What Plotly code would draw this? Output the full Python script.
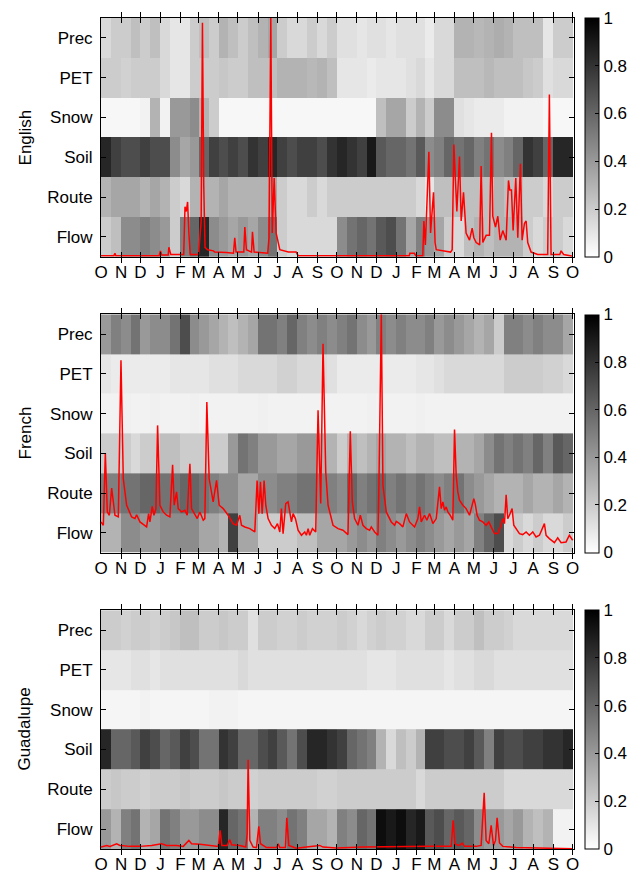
import plotly.graph_objects as go

# ---------------- data ----------------
month_labels = ["O", "N", "D", "J", "F", "M", "A", "M", "J", "J", "A", "S",
                "O", "N", "D", "J", "F", "M", "A", "M", "J", "J", "A", "S", "O"]
month_days = [31, 30, 31, 31, 28, 31, 30, 31, 30, 31, 31, 30,
              31, 30, 31, 31, 28, 31, 30, 31, 30, 31, 31, 30]
row_labels = ["Flow", "Route", "Soil", "Snow", "PET", "Prec"]  # bottom -> top
basins = ["English", "French", "Guadalupe"]

# half-month relevance values (48 per row), Oct yr1 .. Sep yr2
eng_prec = [0.15, 0.2, 0.2, 0.25, 0.2, 0.25, 0.15, 0.1, 0.1, 0.2, 0.25, 0.2, 0.3, 0.25, 0.2, 0.25, 0.3, 0.35, 0.2, 0.15, 0.15, 0.2, 0.15, 0.2,
            0.12, 0.12, 0.1, 0.12, 0.12, 0.1, 0.12, 0.12, 0.12, 0.08, 0.15, 0.15, 0.3, 0.3, 0.28, 0.3, 0.32, 0.3, 0.25, 0.25, 0.25, 0.1, 0.2, 0.2]
eng_pet = [0.2, 0.2, 0.18, 0.2, 0.2, 0.2, 0.15, 0.1, 0.1, 0.2, 0.2, 0.2, 0.22, 0.2, 0.2, 0.25, 0.25, 0.25, 0.3, 0.3, 0.3, 0.28, 0.3, 0.25,
           0.1, 0.1, 0.1, 0.08, 0.1, 0.1, 0.1, 0.12, 0.15, 0.1, 0.15, 0.15, 0.25, 0.25, 0.25, 0.28, 0.25, 0.25, 0.25, 0.22, 0.2, 0.12, 0.15, 0.15]
eng_snow = [0.03, 0.03, 0.03, 0.03, 0.05, 0.3, 0.05, 0.4, 0.4, 0.45, 0.3, 0.2, 0.03, 0.03, 0.03, 0.03, 0.03, 0.03, 0.03, 0.03, 0.03, 0.03, 0.03, 0.03,
            0.03, 0.03, 0.03, 0.03, 0.25, 0.35, 0.35, 0.2, 0.3, 0.2, 0.45, 0.45, 0.12, 0.1, 0.08, 0.08, 0.08, 0.05, 0.05, 0.05, 0.05, 0.03, 0.03, 0.03]
eng_soil = [0.85, 0.75, 0.7, 0.7, 0.75, 0.7, 0.7, 0.45, 0.35, 0.4, 0.6, 0.75, 0.7, 0.75, 0.7, 0.8, 0.75, 0.85, 0.75, 0.7, 0.75, 0.75, 0.7, 0.8,
            0.85, 0.8, 0.75, 0.9, 0.65, 0.6, 0.6, 0.55, 0.65, 0.45, 0.5, 0.6, 0.55, 0.6, 0.5, 0.55, 0.45, 0.5, 0.6, 0.8, 0.75, 0.6, 0.85, 0.85]
eng_route = [0.3, 0.35, 0.35, 0.35, 0.3, 0.35, 0.3, 0.2, 0.15, 0.3, 0.3, 0.3, 0.35, 0.3, 0.3, 0.3, 0.3, 0.35, 0.2, 0.15, 0.15, 0.2, 0.15, 0.2,
             0.2, 0.2, 0.2, 0.2, 0.2, 0.2, 0.2, 0.2, 0.15, 0.1, 0.25, 0.25, 0.25, 0.25, 0.25, 0.25, 0.3, 0.25, 0.25, 0.2, 0.2, 0.15, 0.2, 0.2]
eng_flow = [0.2, 0.25, 0.45, 0.45, 0.5, 0.45, 0.4, 0.2, 0.5, 0.6, 0.85, 0.45, 0.4, 0.35, 0.4, 0.35, 0.45, 0.55, 0.2, 0.15, 0.15, 0.15, 0.15, 0.15,
            0.45, 0.55, 0.6, 0.55, 0.65, 0.7, 0.55, 0.35, 0.5, 0.4, 0.35, 0.2, 0.15, 0.25, 0.3, 0.25, 0.3, 0.3, 0.3, 0.2, 0.15, 0.2, 0.2, 0.15]

fre_prec = [0.4, 0.5, 0.45, 0.55, 0.4, 0.45, 0.45, 0.55, 0.7, 0.45, 0.4, 0.35, 0.3, 0.25, 0.3, 0.35, 0.55, 0.55, 0.5, 0.6, 0.5, 0.45, 0.5, 0.45,
            0.5, 0.55, 0.45, 0.4, 0.5, 0.45, 0.5, 0.45, 0.45, 0.5, 0.4, 0.45, 0.4, 0.35, 0.3, 0.35, 0.2, 0.5, 0.5, 0.45, 0.5, 0.45, 0.45, 0.35]
fre_pet = [0.1, 0.08, 0.08, 0.08, 0.08, 0.08, 0.08, 0.1, 0.1, 0.1, 0.1, 0.12, 0.12, 0.12, 0.15, 0.15, 0.15, 0.15, 0.18, 0.18, 0.15, 0.15, 0.15, 0.12,
           0.08, 0.08, 0.08, 0.08, 0.08, 0.08, 0.08, 0.08, 0.1, 0.1, 0.12, 0.15, 0.15, 0.15, 0.15, 0.15, 0.15, 0.2, 0.2, 0.2, 0.2, 0.18, 0.18, 0.15]
fre_snow = [0.05, 0.05, 0.06, 0.05, 0.05, 0.06, 0.05, 0.05, 0.05, 0.06, 0.05, 0.05, 0.05, 0.05, 0.05, 0.05, 0.06, 0.05, 0.05, 0.05, 0.05, 0.05, 0.05, 0.05,
            0.05, 0.05, 0.05, 0.06, 0.05, 0.05, 0.05, 0.05, 0.06, 0.05, 0.05, 0.05, 0.05, 0.05, 0.05, 0.05, 0.05, 0.05, 0.05, 0.05, 0.05, 0.05, 0.05, 0.05]
fre_soil = [0.2, 0.2, 0.2, 0.15, 0.2, 0.2, 0.25, 0.25, 0.2, 0.2, 0.2, 0.2, 0.2, 0.4, 0.55, 0.5, 0.4, 0.4, 0.35, 0.35, 0.4, 0.4, 0.3, 0.3,
            0.2, 0.3, 0.25, 0.3, 0.35, 0.3, 0.3, 0.25, 0.3, 0.3, 0.25, 0.25, 0.3, 0.3, 0.35, 0.45, 0.55, 0.5, 0.55, 0.5, 0.6, 0.5, 0.65, 0.6]
fre_route = [0.5, 0.5, 0.55, 0.55, 0.6, 0.6, 0.55, 0.55, 0.6, 0.6, 0.55, 0.5, 0.45, 0.45, 0.35, 0.35, 0.45, 0.45, 0.5, 0.5, 0.55, 0.55, 0.5, 0.5,
             0.45, 0.6, 0.5, 0.55, 0.6, 0.5, 0.55, 0.5, 0.55, 0.5, 0.45, 0.5, 0.55, 0.45, 0.4, 0.35, 0.3, 0.3, 0.3, 0.35, 0.3, 0.3, 0.35, 0.3]
fre_flow = [0.3, 0.3, 0.45, 0.45, 0.4, 0.4, 0.45, 0.45, 0.45, 0.45, 0.35, 0.35, 0.3, 0.75, 0.35, 0.35, 0.2, 0.2, 0.2, 0.2, 0.25, 0.25, 0.35, 0.35,
            0.35, 0.4, 0.45, 0.4, 0.5, 0.45, 0.4, 0.45, 0.5, 0.45, 0.4, 0.35, 0.4, 0.35, 0.5, 0.6, 0.7, 0.15, 0.2, 0.15, 0.2, 0.15, 0.15, 0.2]

gua_prec = [0.2, 0.2, 0.18, 0.2, 0.2, 0.18, 0.2, 0.22, 0.25, 0.25, 0.2, 0.2, 0.22, 0.2, 0.2, 0.12, 0.2, 0.2, 0.18, 0.18, 0.2, 0.18, 0.18, 0.18,
            0.2, 0.18, 0.15, 0.18, 0.2, 0.18, 0.18, 0.15, 0.15, 0.2, 0.2, 0.15, 0.2, 0.2, 0.25, 0.2, 0.2, 0.18, 0.15, 0.15, 0.15, 0.15, 0.15, 0.15]
gua_pet = [0.1, 0.1, 0.1, 0.12, 0.12, 0.1, 0.12, 0.12, 0.12, 0.12, 0.12, 0.12, 0.12, 0.12, 0.15, 0.12, 0.12, 0.12, 0.12, 0.12, 0.12, 0.12, 0.12, 0.12,
           0.12, 0.12, 0.12, 0.1, 0.1, 0.1, 0.12, 0.12, 0.12, 0.12, 0.12, 0.1, 0.12, 0.12, 0.15, 0.15, 0.12, 0.12, 0.12, 0.12, 0.12, 0.12, 0.12, 0.12]
gua_snow = [0.04, 0.04, 0.04, 0.04, 0.05, 0.04, 0.04, 0.04, 0.04, 0.04, 0.04, 0.05, 0.05, 0.05, 0.04, 0.04, 0.04, 0.04, 0.04, 0.04, 0.04, 0.04, 0.04, 0.04,
            0.04, 0.04, 0.04, 0.04, 0.04, 0.04, 0.04, 0.04, 0.04, 0.04, 0.04, 0.04, 0.04, 0.04, 0.04, 0.04, 0.04, 0.04, 0.04, 0.04, 0.04, 0.04, 0.04, 0.04]
gua_soil = [0.85, 0.6, 0.6, 0.65, 0.75, 0.7, 0.6, 0.65, 0.75, 0.7, 0.55, 0.55, 0.8, 0.75, 0.6, 0.6, 0.7, 0.75, 0.65, 0.55, 0.7, 0.85, 0.85, 0.8,
            0.75, 0.6, 0.55, 0.5, 0.3, 0.15, 0.25, 0.2, 0.3, 0.75, 0.75, 0.7, 0.7, 0.75, 0.65, 0.5, 0.75, 0.7, 0.7, 0.75, 0.75, 0.8, 0.8, 0.85]
gua_route = [0.2, 0.22, 0.2, 0.2, 0.18, 0.2, 0.2, 0.2, 0.22, 0.2, 0.2, 0.2, 0.22, 0.2, 0.2, 0.18, 0.2, 0.2, 0.2, 0.2, 0.2, 0.2, 0.18, 0.18,
             0.2, 0.2, 0.2, 0.2, 0.2, 0.2, 0.2, 0.2, 0.15, 0.2, 0.2, 0.2, 0.2, 0.2, 0.2, 0.2, 0.2, 0.15, 0.15, 0.15, 0.15, 0.15, 0.15, 0.15]
gua_flow = [0.4, 0.3, 0.5, 0.55, 0.3, 0.35, 0.55, 0.5, 0.4, 0.4, 0.45, 0.45, 0.85, 0.6, 0.55, 0.3, 0.5, 0.5, 0.45, 0.55, 0.5, 0.35, 0.35, 0.3,
            0.5, 0.45, 0.6, 0.55, 0.95, 0.9, 0.95, 0.85, 0.9, 0.65, 0.7, 0.6, 0.65, 0.6, 0.45, 0.4, 0.4, 0.35, 0.4, 0.3, 0.25, 0.3, 0.05, 0.05]

# normalized streamflow (day since Oct 1, value)
eng_q_day = [0, 20, 21.6, 23, 90, 92, 94, 104, 105, 108, 128, 130, 132, 134, 136, 138, 151, 153, 155, 157, 159, 161, 165, 174, 176, 194,
             205, 207, 209, 221, 222.6, 225, 233, 234.4, 237, 258, 260, 262.8, 265, 268, 271, 276.7, 290, 302, 305, 477, 478, 485, 487,
             498, 499.7, 502, 507.4, 510, 514.6, 517, 518.8, 541, 543.5, 546.1, 550.7, 554.8, 557.4, 561, 565, 570.3, 574.4, 577, 580.6,
             586, 588.3, 590.9, 596, 601.2, 604.3, 606.3, 610.5, 614.1, 617.7, 621.8, 627, 630.6, 632.6, 635.2, 637.8, 641.9, 645, 649.1,
             651.7, 655.3, 657.9, 660.4, 665.6, 675.9, 691.3, 693.9, 696.5, 710, 712, 716, 730]
eng_q_val = [0.005, 0.005, 0.015, 0.005, 0.005, 0.025, 0.008, 0.008, 0.04, 0.01, 0.01, 0.21, 0.19, 0.23, 0.1, 0.01, 0.01, 0.1, 0.15, 0.98,
             0.3, 0.04, 0.03, 0.025, 0.02, 0.018, 0.015, 0.08, 0.02, 0.02, 0.125, 0.03, 0.02, 0.105, 0.02, 0.015, 0.08, 1.0, 0.1, 0.33, 0.1,
             0.03, 0.02, 0.02, 0.005, 0.005, 0.015, 0.015, 0.005, 0.005, 0.15, 0.05, 0.44, 0.1, 0.27, 0.06, 0.03, 0.02, 0.03, 0.47, 0.19,
             0.42, 0.15, 0.27, 0.1, 0.07, 0.12, 0.08, 0.06, 0.05, 0.38, 0.06, 0.09, 0.09, 0.52, 0.17, 0.125, 0.17, 0.07, 0.11, 0.07, 0.32,
             0.28, 0.28, 0.11, 0.33, 0.08, 0.39, 0.07, 0.14, 0.15, 0.06, 0.02, 0.01, 0.01, 0.68, 0.01, 0.01, 0.025, 0.01, 0.003]

fre_q_day = [0, 3.6, 6.7, 9.8, 12.9, 16.5, 21.6, 26.8, 30.9, 34.5, 39.7, 47.4, 52.6, 55.1, 60.3, 70.6, 73.7, 75.7, 79.3, 81.9, 85.0, 87.6,
             91.2, 96.3, 101.5, 106.6, 110.8, 113.3, 116.9, 119.5, 124.7, 129.8, 133.4, 137.6, 140.1, 145.3, 148.9, 153.0, 158.2, 160.7,
             163.8, 167.4, 171.0, 173.6, 178.8, 182.9, 189.1, 196.8, 204.5, 209.7, 214.8, 217.4, 222.6, 230.3, 238.0, 241.6, 244.2, 246.8,
             249.4, 252.4, 255.0, 258.6, 263.8, 268.9, 273.1, 276.7, 279.2, 281.8, 285.9, 289.5, 292.1, 294.7, 297.3, 300.9, 305.0, 310.2,
             315.3, 317.9, 320.5, 323.0, 327.2, 332.3, 335.9, 340.0, 343.6, 347.8, 351.4, 356.5, 359.1, 366.8, 374.5, 382.2, 385.8, 388.9,
             392.5, 397.7, 401.3, 405.4, 410.6, 415.7, 418.3, 423.5, 428.6, 430.1, 433.8, 436.3, 441.5, 449.2, 454.4, 456.9, 462.1, 467.2,
             472.4, 477.5, 485.3, 490.4, 493.0, 495.6, 500.7, 504.3, 508.5, 513.6, 518.8, 523.9, 526.5, 529.1, 531.6, 534.2, 536.8, 540.4,
             544.5, 547.1, 549.7, 552.2, 554.8, 560.0, 565.1, 570.3, 574.4, 577.0, 579.0, 582.1, 585.7, 590.9, 596.0, 600.2, 603.8, 608.9,
             614.1, 619.2, 621.8, 624.4, 627.0, 629.5, 632.1, 636.2, 638.8, 642.4, 647.6, 652.7, 657.9, 663.0, 668.2, 673.3, 678.5, 686.2,
             688.8, 693.9, 701.7, 706.8, 712.0, 719.7, 724.8, 730.0]
fre_q_val = [0.129, 0.115, 0.418, 0.171, 0.157, 0.271, 0.157, 0.150, 0.807, 0.310, 0.199, 0.150, 0.143, 0.159, 0.129, 0.108, 0.164, 0.129,
             0.194, 0.157, 0.185, 0.534, 0.199, 0.171, 0.157, 0.150, 0.369, 0.199, 0.255, 0.185, 0.171, 0.178, 0.157, 0.373, 0.185, 0.157,
             0.143, 0.171, 0.136, 0.143, 0.632, 0.310, 0.255, 0.213, 0.303, 0.199, 0.185, 0.157, 0.122, 0.115, 0.157, 0.115, 0.108, 0.101,
             0.087, 0.303, 0.164, 0.297, 0.164, 0.303, 0.199, 0.143, 0.115, 0.101, 0.122, 0.087, 0.185, 0.080, 0.206, 0.213, 0.171, 0.129,
             0.164, 0.143, 0.094, 0.073, 0.087, 0.073, 0.101, 0.073, 0.101, 0.087, 0.597, 0.206, 0.877, 0.338, 0.199, 0.136, 0.115, 0.101,
             0.094, 0.076, 0.509, 0.213, 0.143, 0.115, 0.157, 0.115, 0.101, 0.094, 0.108, 0.087, 0.073, 0.283, 1.0, 0.283, 0.171, 0.129,
             0.115, 0.131, 0.122, 0.108, 0.164, 0.129, 0.108, 0.143, 0.192, 0.129, 0.157, 0.136, 0.164, 0.122, 0.143, 0.276, 0.185, 0.213,
             0.178, 0.192, 0.171, 0.157, 0.136, 0.517, 0.324, 0.255, 0.220, 0.199, 0.185, 0.157, 0.199, 0.227, 0.206, 0.157, 0.136, 0.129,
             0.115, 0.129, 0.108, 0.080, 0.080, 0.115, 0.143, 0.122, 0.243, 0.143, 0.157, 0.185, 0.115, 0.101, 0.080, 0.076, 0.087, 0.073,
             0.087, 0.066, 0.073, 0.122, 0.073, 0.059, 0.042, 0.062, 0.042, 0.045, 0.073, 0.052]

gua_q_day = [0, 8.8, 13.9, 24.2, 29.4, 44.8, 60.3, 78.3, 93.8, 101.5, 116.9, 127.3, 136.0, 140.1, 153.0, 168.5, 181.4, 184.4, 187.0,
             195.3, 199.4, 202.0, 214.8, 224.1, 226.2, 227.7, 230.3, 235.4, 240.6, 244.2, 246.8, 256.1, 271.5, 274.1, 276.7, 285.4, 287.5,
             290.6, 302.4, 317.9, 338.5, 343.6, 364.2, 405.4, 456.9, 508.5, 542.0, 545.0, 547.6, 554.8, 559.0, 562.6, 580.6, 588.3, 593.0,
             596.0, 600.2, 603.8, 607.4, 610.5, 613.0, 616.7, 621.8, 642.4, 730]
gua_q_val = [0.008, 0.015, 0.011, 0.022, 0.015, 0.011, 0.011, 0.015, 0.022, 0.015, 0.015, 0.011, 0.036, 0.022, 0.020, 0.015, 0.011, 0.078,
             0.015, 0.015, 0.039, 0.018, 0.015, 0.008, 0.064, 0.374, 0.036, 0.008, 0.006, 0.095, 0.022, 0.006, 0.006, 0.022, 0.006, 0.006,
             0.131, 0.015, 0.003, 0.008, 0.015, 0.008, 0.004, 0.008, 0.011, 0.011, 0.011, 0.120, 0.020, 0.015, 0.025, 0.011, 0.011, 0.015,
             0.235, 0.036, 0.022, 0.099, 0.015, 0.036, 0.131, 0.025, 0.011, 0.006, 0.001]

colorbar_ticks = [0, 0.2, 0.4, 0.6, 0.8, 1]

# ---------------- build ----------------
month_starts = [0]
for d in month_days:
    month_starts.append(month_starts[-1] + d)
col_edges = []
for s, d in zip(month_starts[:-1], month_days):
    col_edges += [s, s + d / 2]
col_edges.append(month_starts[-1])

heat_data = [
    [eng_flow, eng_route, eng_soil, eng_snow, eng_pet, eng_prec],
    [fre_flow, fre_route, fre_soil, fre_snow, fre_pet, fre_prec],
    [gua_flow, gua_route, gua_soil, gua_snow, gua_pet, gua_prec],
]
flow_lines = [(eng_q_day, eng_q_val), (fre_q_day, fre_q_val), (gua_q_day, gua_q_val)]

FONT = "Liberation Sans, Arial, Helvetica, sans-serif"
OFF = 8  # page body margin in the browser
W, H = 643 - OFF, 874 - OFF
m_l, m_r, m_t, m_b = 101 - OFF, 643 - 574, 17.5 - OFF, 874 - 849
plot_h = H - m_t - m_b
plot_w = W - m_l - m_r
# panel extents in window pixels (top, bottom)
panels_px = [(17.5, 256.5), (314, 552.5), (610, 849)]
domains = [[(874 - m_b - b) / plot_h, (874 - m_b - t) / plot_h] for t, b in panels_px]
domains = [[max(0, a), min(1, b)] for a, b in domains]

fig = go.Figure()
layout = dict(
    width=W, height=H,
    margin=dict(l=m_l, r=m_r, t=m_t, b=m_b, autoexpand=False),
    paper_bgcolor="white", plot_bgcolor="white",
    showlegend=False,
    font=dict(family=FONT, size=17, color="black"),
)
annotations = []
for i in range(3):
    xa = "x" if i == 0 else f"x{i + 1}"
    ya = "y" if i == 0 else f"y{i + 1}"
    ya2 = f"y{i + 4}"
    dom = domains[i]
    fig.add_trace(go.Heatmap(
        x=col_edges, y=row_labels, z=heat_data[i],
        zmin=0, zmax=1, zsmooth=False,
        colorscale=[[0, "#ffffff"], [1, "#000000"]],
        xaxis=xa, yaxis=ya, hoverinfo="skip",
        colorbar=dict(
            x=(585 - 101) / plot_w, xanchor="left", xpad=0,
            y=(dom[0] + dom[1]) / 2, yanchor="middle", ypad=0,
            len=dom[1] - dom[0], lenmode="fraction",
            thickness=14, outlinewidth=1, outlinecolor="black",
            tickvals=colorbar_ticks, ticktext=[f"{v:g}" for v in colorbar_ticks],
            ticks="inside", ticklen=4, tickcolor="black",
            tickfont=dict(size=17, family=FONT),
        ),
    ))
    qx, qy = flow_lines[i]
    fig.add_trace(go.Scatter(
        x=qx, y=qy, mode="lines", line=dict(color="#ff0000", width=1.5),
        xaxis=xa, yaxis=ya2, hoverinfo="skip",
    ))
    xkey = "xaxis" if i == 0 else f"xaxis{i + 1}"
    ykey = "yaxis" if i == 0 else f"yaxis{i + 1}"
    layout[xkey] = dict(
        domain=[0, 1], anchor=ya, range=[0, 732],
        tickvals=month_starts, ticktext=month_labels,
        ticks="inside", ticklen=5, tickcolor="black", mirror="allticks",
        showline=True, linecolor="black", linewidth=1, showgrid=False, zeroline=False,
        tickfont=dict(size=17, family=FONT), tickangle=0,
    )
    layout[ykey] = dict(
        domain=dom, anchor=xa, range=[-0.5, 5.5],
        ticks="inside", ticklen=5, tickcolor="black", mirror="allticks",
        showline=True, linecolor="black", linewidth=1, showgrid=False, zeroline=False,
        tickfont=dict(size=17, family=FONT), ticklabelstandoff=4,
    )
    layout[f"yaxis{i + 4}"] = dict(
        domain=dom, anchor=xa, overlaying=ya, range=[0, 1], visible=False,
    )
    annotations.append(dict(
        text=basins[i], xref="paper", yref="paper",
        x=(25 - 101) / plot_w, y=(dom[0] + dom[1]) / 2,
        xanchor="center", yanchor="middle", textangle=-90, showarrow=False,
        font=dict(size=17, family=FONT),
    ))
layout["annotations"] = annotations
fig.update_layout(**layout)
fig.write_html("out.html")
